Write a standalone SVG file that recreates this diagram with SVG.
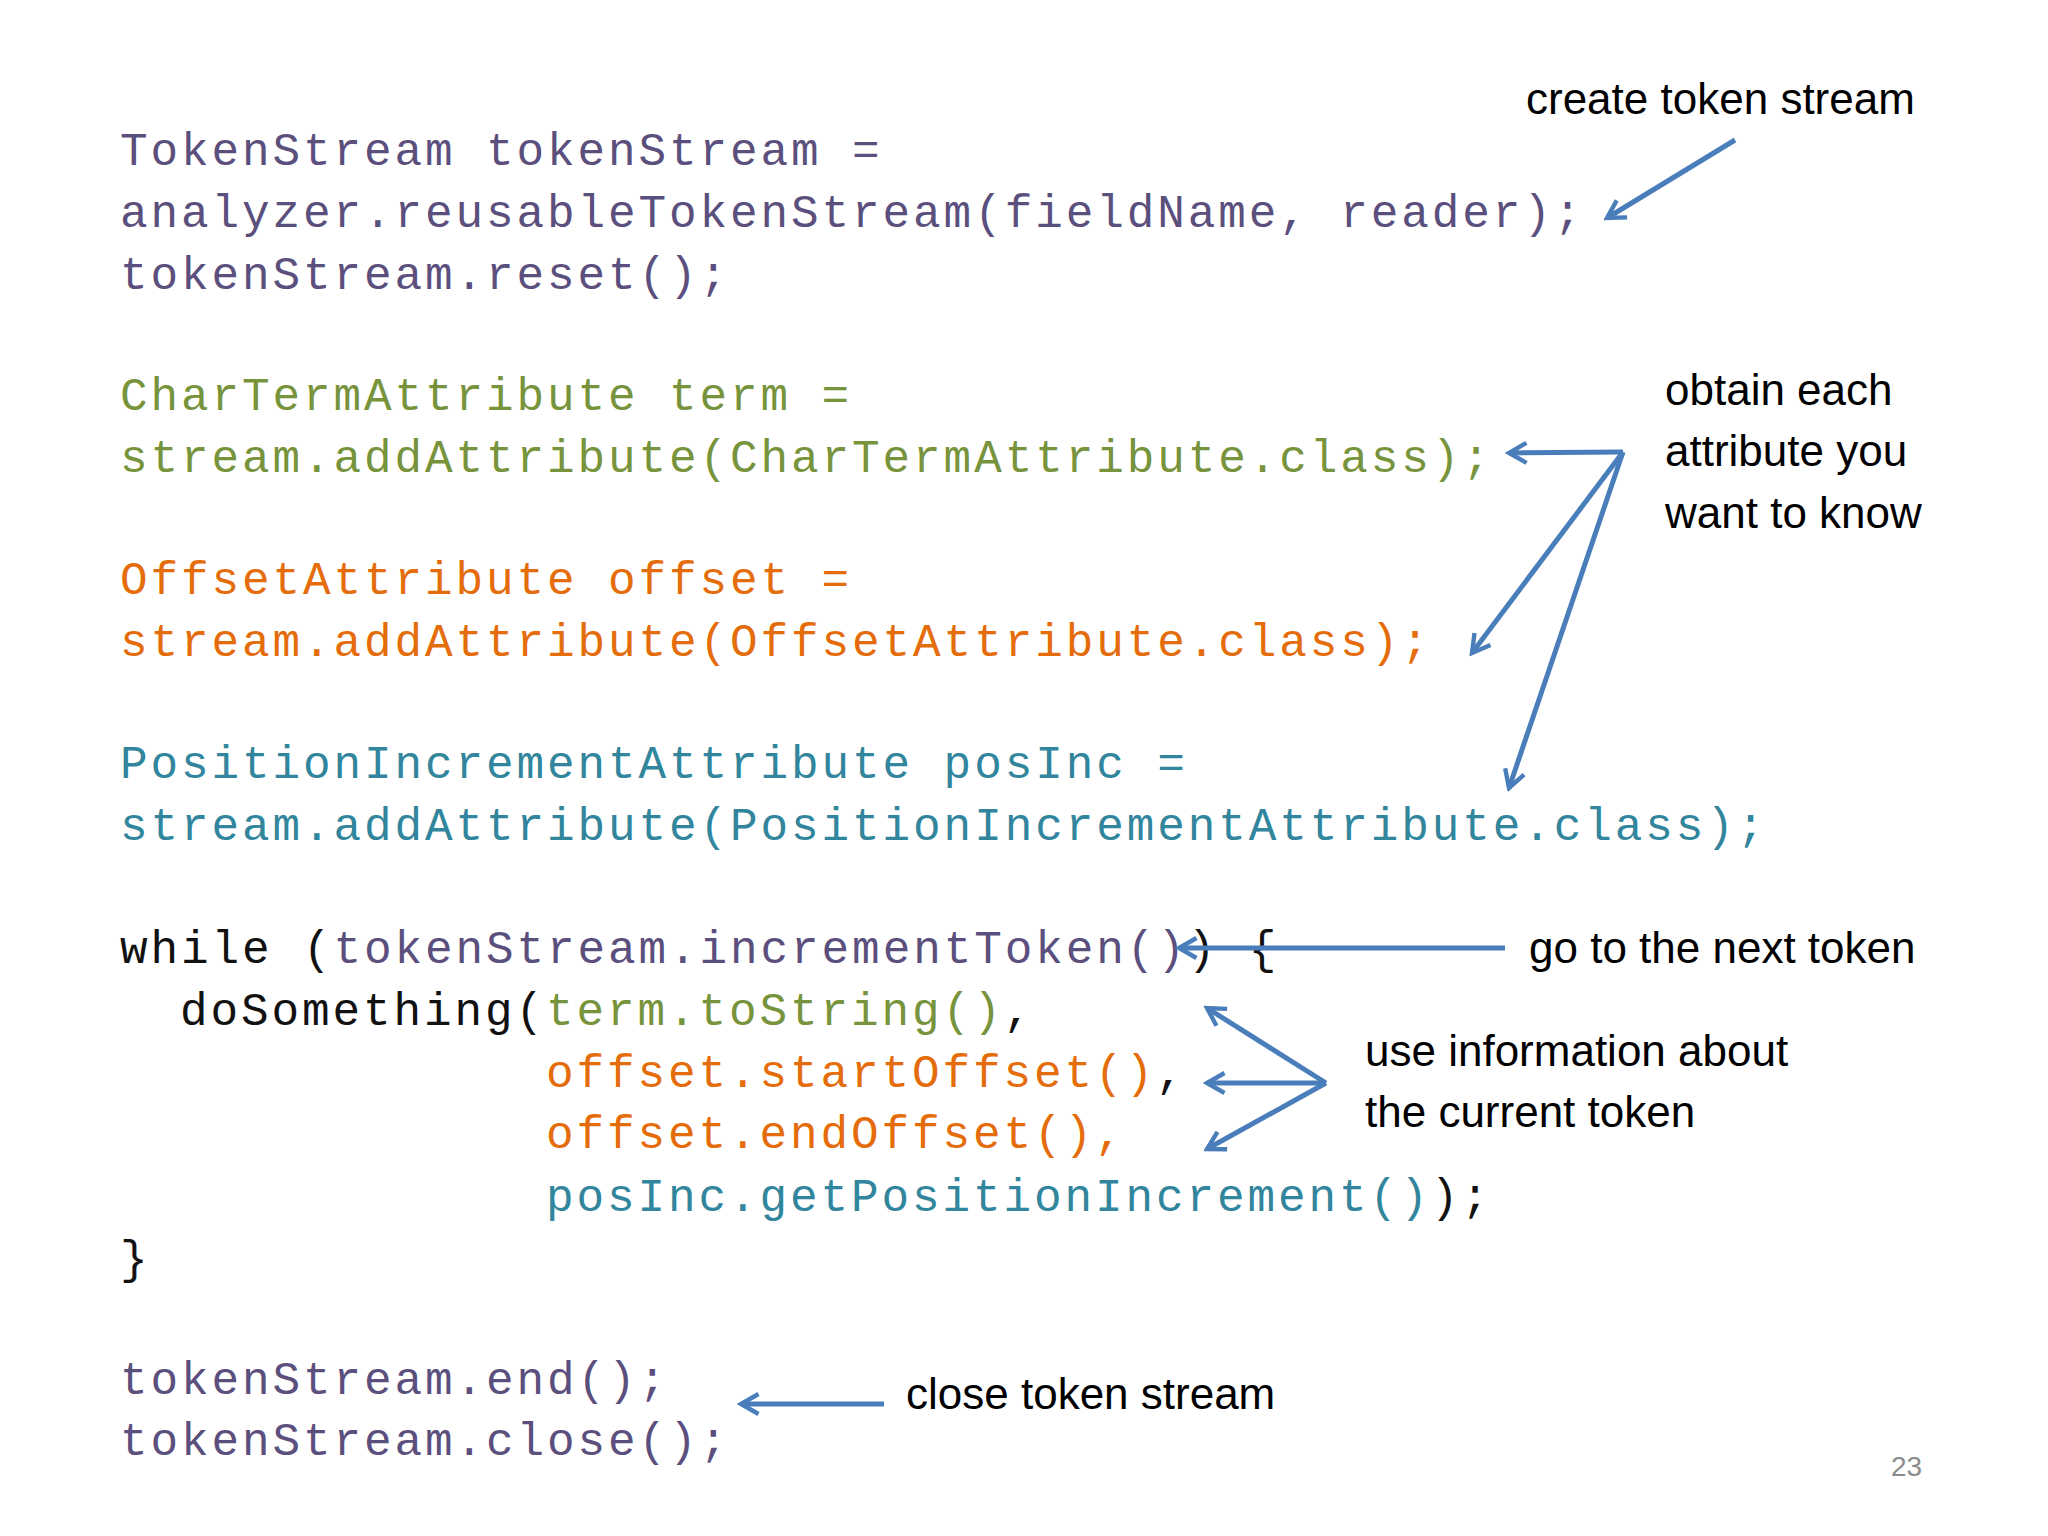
<svg xmlns="http://www.w3.org/2000/svg" width="2048" height="1536" viewBox="0 0 2048 1536">
<defs>
<marker id="ah" viewBox="0 0 20 20" refX="17" refY="10" markerWidth="5" markerHeight="5" markerUnits="strokeWidth" orient="auto">
<path d="M3,2 L17,10 L3,18" fill="none" stroke="#4a7ebb" stroke-width="3.5"/>
</marker>
</defs>
<style>
.c{font-family:"Liberation Mono","DejaVu Sans Mono",monospace;font-size:46px;letter-spacing:2.9px}
.a{font-family:"Liberation Sans","Open Sans",sans-serif;font-size:44px;fill:#000}
.p{fill:#5b4f7d}.g{fill:#77933c}.o{fill:#e46c0a}.t{fill:#31859c}.k{fill:#111}
.ar{stroke:#4a7ebb;stroke-width:5;fill:none;marker-end:url(#ah)}
</style>
<rect width="2048" height="1536" fill="#fff"/>
<g id="code">
<text class="c p" x="120" y="165">TokenStream tokenStream =</text>
<text class="c p" x="120" y="227">analyzer.reusableTokenStream(fieldName, reader);</text>
<text class="c p" x="120" y="289">tokenStream.reset();</text>
<text class="c g" x="120" y="410">CharTermAttribute term =</text>
<text class="c g" x="120" y="472">stream.addAttribute(CharTermAttribute.class);</text>
<text class="c o" x="120" y="594">OffsetAttribute offset =</text>
<text class="c o" x="120" y="656">stream.addAttribute(OffsetAttribute.class);</text>
<text class="c t" x="120" y="778">PositionIncrementAttribute posInc =</text>
<text class="c t" x="120" y="840">stream.addAttribute(PositionIncrementAttribute.class);</text>
<text class="c k" x="120" y="963">while (<tspan class="p">tokenStream.incrementToken()</tspan>) {</text>
<text class="c k" x="180" y="1025">doSomething(<tspan class="g">term.toString()</tspan>,</text>
<text class="c o" x="546" y="1087">offset.startOffset()<tspan class="k">,</tspan></text>
<text class="c o" x="546" y="1148">offset.endOffset(),</text>
<text class="c t" x="546" y="1211">posInc.getPositionIncrement()<tspan class="k">);</tspan></text>
<text class="c k" x="120" y="1273">}</text>
<text class="c p" x="120" y="1394">tokenStream.end();</text>
<text class="c p" x="120" y="1455">tokenStream.close();</text>
</g>
<g id="labels">
<text class="a" x="1526" y="114">create token stream</text>
<text class="a" x="1665" y="405">obtain each</text>
<text class="a" x="1665" y="466">attribute you</text>
<text class="a" x="1665" y="528">want to know</text>
<text class="a" x="1529" y="963">go to the next token</text>
<text class="a" x="1365" y="1066">use information about</text>
<text class="a" x="1365" y="1127">the current token</text>
<text class="a" x="906" y="1409">close token stream</text>
<text x="1891" y="1476" style="font-family:'Liberation Sans',sans-serif;font-size:28px;fill:#8c8c8c">23</text>
</g>
<g id="connectors">
<line class="ar" x1="1735" y1="140" x2="1607" y2="218"/>
<line class="ar" x1="1623" y1="452" x2="1509" y2="453"/>
<line class="ar" x1="1623" y1="452" x2="1472" y2="653"/>
<line class="ar" x1="1623" y1="452" x2="1509" y2="788"/>
<line class="ar" x1="1505" y1="948" x2="1179" y2="948"/>
<line class="ar" x1="1326" y1="1083" x2="1207" y2="1008"/>
<line class="ar" x1="1326" y1="1083" x2="1207" y2="1083"/>
<line class="ar" x1="1326" y1="1083" x2="1207" y2="1149"/>
<line class="ar" x1="884" y1="1404" x2="741" y2="1404"/>
</g>
</svg>
